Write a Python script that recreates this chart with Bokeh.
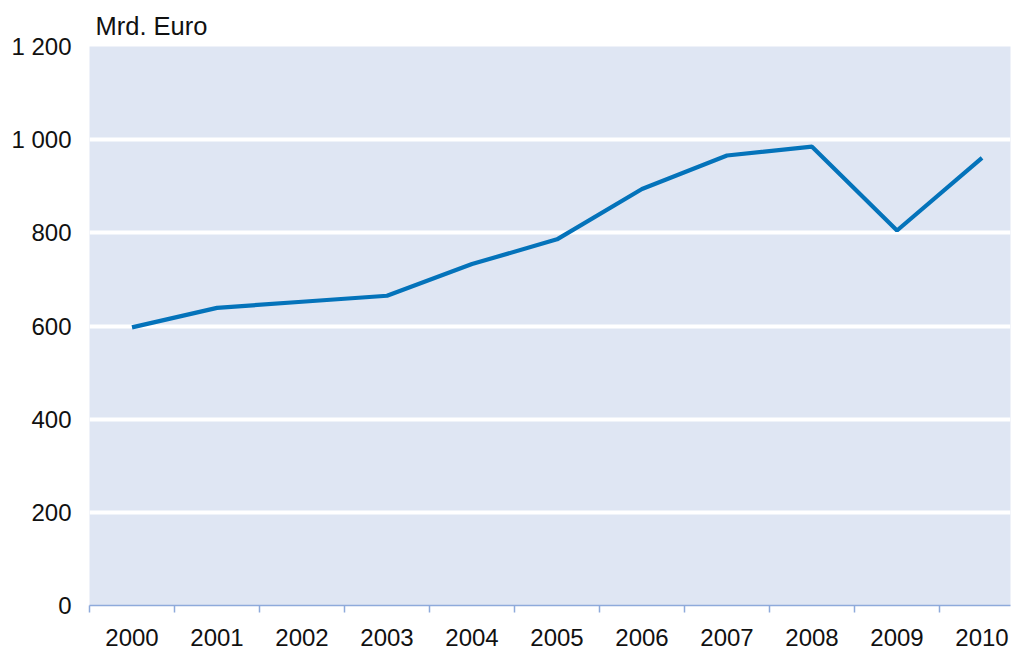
from bokeh.plotting import figure
from bokeh.models import Range1d, FixedTicker, Title
from bokeh.embed import file_html
from bokeh.resources import INLINE

years = ["2000", "2001", "2002", "2003", "2004", "2005", "2006", "2007", "2008", "2009", "2010"]
values = [597, 639, 652, 665, 733, 786, 894, 966, 985, 805, 961]
y_ticks = [0, 200, 400, 600, 800, 1000, 1200]
y_tick_labels = ["0", "200", "400", "600", "800", "1 000", "1 200"]
unit_label = "Mrd. Euro"

FONT = "Liberation Sans"
x_pos = list(range(len(years)))

p = figure(width=1011, height=650, output_backend="svg", toolbar_location=None,
           x_range=Range1d(-0.5, 10.335), y_range=Range1d(0, 1200),
           min_border_left=89, min_border_right=1, min_border_top=46, min_border_bottom=45)
p.outline_line_color = None
p.background_fill_color = "#dfe6f3"
p.border_fill_color = "white"

p.title = Title(text=unit_label, text_font=FONT, text_font_size="25.5px",
                text_font_style="normal", text_color="#111111", offset=6, standoff=13)

p.line(x_pos, values, line_color="#0473ba", line_width=4.2)

# y axis
p.yaxis.ticker = FixedTicker(ticks=y_ticks)
p.yaxis.major_label_overrides = {t: l for t, l in zip(y_ticks, y_tick_labels)}
p.yaxis.axis_line_color = None
p.yaxis.major_tick_line_color = None
p.yaxis.minor_tick_line_color = None
p.yaxis.major_tick_out = 0
p.yaxis.major_tick_in = 0
p.yaxis.major_label_standoff = 18
p.yaxis.major_label_text_font = FONT
p.yaxis.major_label_text_font_size = "24px"
p.yaxis.major_label_text_color = "#111111"

# x axis
boundaries = [i - 0.5 for i in range(len(years) + 1)]
p.xaxis.ticker = FixedTicker(ticks=x_pos, minor_ticks=boundaries)
p.xaxis.major_label_overrides = {i: y for i, y in zip(x_pos, years)}
p.xaxis.axis_line_color = "#8eaadb"
p.xaxis.axis_line_width = 1.5
p.xaxis.major_tick_line_color = None
p.xaxis.major_tick_out = 0
p.xaxis.major_tick_in = 0
p.xaxis.minor_tick_line_color = "#8eaadb"
p.xaxis.minor_tick_line_width = 1.5
p.xaxis.minor_tick_out = 7
p.xaxis.minor_tick_in = 0
p.xaxis.major_label_standoff = 16
p.xaxis.major_label_text_font = FONT
p.xaxis.major_label_text_font_size = "24px"
p.xaxis.major_label_text_color = "#111111"

p.xgrid.grid_line_color = None
p.ygrid.ticker = FixedTicker(ticks=[200, 400, 600, 800, 1000])
p.ygrid.grid_line_color = "white"
p.ygrid.grid_line_width = 4

open("out.html", "w").write(file_html(p, INLINE))
